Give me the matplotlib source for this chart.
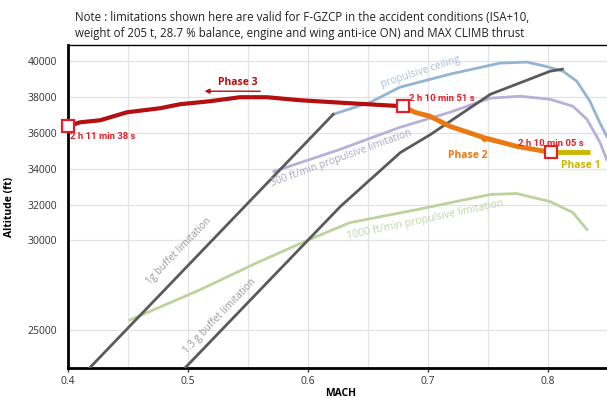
import matplotlib
matplotlib.use("Agg")
import matplotlib.pyplot as plt

plt.rcParams['font.family'] = ['Open Sans', 'DejaVu Sans']

# 1g buffet limitation
buf1_mach = [0.418, 0.621]
buf1_alt = [22880, 37030]
# 1.3 g buffet limitation
buf13_mach = [0.4975, 0.627, 0.677, 0.702, 0.752, 0.802, 0.812]
buf13_alt = [22880, 31890, 34900, 35900, 38150, 39440, 39550]
# propulsive ceiling
ceil_mach = [0.621, 0.652, 0.6767, 0.7183, 0.760, 0.7825, 0.7975, 0.8125, 0.824, 0.835, 0.843, 0.849]
ceil_alt = [37030, 37706, 38545, 39273, 39888, 39944, 39720, 39440, 38880, 37760, 36590, 35800]
# 300 ft/min propulsive limitation
lim300_mach = [0.5717, 0.6267, 0.6767, 0.7183, 0.7517, 0.7767, 0.8017, 0.8208, 0.8325, 0.8433, 0.849]
lim300_alt = [33844, 35076, 36307, 37146, 37930, 38041, 37873, 37482, 36754, 35467, 34516]
# 1000 ft/min propulsive limitation
lim1000_mach = [0.4517, 0.51, 0.5575, 0.599, 0.635, 0.691, 0.7517, 0.774, 0.8017, 0.8208, 0.8325]
lim1000_alt = [25562, 27241, 28752, 29983, 30990, 31718, 32557, 32613, 32165, 31550, 30600]
# Flight phases
ph3_mach = [0.4, 0.41, 0.4267, 0.4492, 0.4767, 0.4933, 0.5183, 0.5433, 0.5658, 0.5933, 0.635, 0.679]
ph3_alt = [36363, 36586, 36698, 37146, 37370, 37594, 37762, 37985, 37985, 37818, 37650, 37482]
ph2_mach = [0.679, 0.689, 0.7017, 0.7183, 0.7458, 0.774, 0.8025]
ph2_alt = [37482, 37146, 36922, 36363, 35747, 35243, 34908]
ph1_mach = [0.8025, 0.835]
ph1_alt = [34908, 34908]
# time markers
mark_mach = [0.4, 0.679, 0.8025]
mark_alt = [36363, 37482, 34908]
mark_labels = ["2 h 11 min 38 s", "2 h 10 min 51 s", "2 h 10 min 05 s"]

xticks = [0.4, 0.5, 0.6, 0.7, 0.8]
yticks = [25000, 30000, 32000, 34000, 36000, 38000, 40000]

fig = plt.figure(figsize=(6.07, 3.98), dpi=100)
ax = fig.add_axes([0.112, 0.0754, 0.888, 0.8116])
ax.set_xlim(0.4, 0.8492)
ax.set_ylim(22880, 40900)

# grid
for gx in [0.45, 0.5, 0.55, 0.6, 0.65, 0.7, 0.75, 0.8]:
    ax.axvline(gx, color='#e2e2e2', lw=0.9, zorder=0)
for gy in yticks:
    ax.axhline(gy, color='#e2e2e2', lw=0.9, zorder=0)

gray = '#5a5a5a'
ax.plot(buf1_mach, buf1_alt, color=gray, lw=2, zorder=3)
ax.plot(buf13_mach, buf13_alt, color=gray, lw=2, zorder=3)
ax.plot(ceil_mach, ceil_alt, color='#94b4d4', lw=2, zorder=2)
ax.plot(lim300_mach, lim300_alt, color='#b9afd9', lw=2, zorder=2)
ax.plot(lim1000_mach, lim1000_alt, color='#bcd39c', lw=2, zorder=2)

ax.plot(ph1_mach, ph1_alt, color='#c9b800', lw=3.5, zorder=5, solid_capstyle='butt')
ax.plot(ph2_mach, ph2_alt, color='#e97a12', lw=3.5, zorder=5)
ax.plot(ph3_mach, ph3_alt, color='#b3100f', lw=3, zorder=5)
ax.plot(mark_mach, mark_alt, ls='none', marker='s', ms=8, mfc='white', mec='#e0202a',
        mew=1.6, zorder=7, clip_on=False)

red = '#e0202a'
tk = dict(color=red, fontsize=6.8, fontweight='bold', zorder=8,
          family=['Roboto', 'DejaVu Sans'])
ax.text(0.4015, 36050, mark_labels[0], ha='left', va='top', **tk)
ax.text(0.684, 37650, mark_labels[1], ha='left', va='bottom', **tk)
ax.text(0.8025, 35150, mark_labels[2], ha='center', va='bottom', **tk)

# phase labels
ax.text(0.5416, 38800, "Phase 3", color='#b3100f', fontsize=7.5, fontweight='bold',
        ha='center', va='center', zorder=8)
ax.annotate("", xy=(0.5115, 38320), xytext=(0.5625, 38320),
            arrowprops=dict(arrowstyle='-|>', color='#b3100f', lw=1.0, mutation_scale=7))
ax.text(0.7333, 34730, "Phase 2", color='#e97a12', fontsize=7.5, fontweight='bold',
        ha='center', va='center', zorder=8)
ax.annotate("", xy=(0.7417, 35660), xytext=(0.7742, 35200),
            arrowprops=dict(arrowstyle='-|>', color='#e97a12', lw=0.8, mutation_scale=6))
ax.text(0.8275, 34170, "Phase 1", color='#c9b800', fontsize=7.5, fontweight='bold',
        ha='center', va='center', zorder=8)

# curve labels
lc = dict(ha='center', va='center', rotation_mode='anchor')
ax.text(0.4925, 29370, "1g buffet limitation", color='#9a9a9a', rotation=46, fontsize=7.2, **lc)
ax.text(0.5267, 25790, "1.3 g buffet limitation", color='#9a9a9a', rotation=46, fontsize=7.2, **lc)
ax.text(0.628, 34600, "300 ft/min propulsive limitation", color='#aba4c4', rotation=20,
        fontsize=7.3, **lc)
ax.text(0.6935, 39380, "propulsive ceiling", color='#a7bfd8', rotation=18, fontsize=7.3, **lc)
ax.text(0.6975, 31160, "1000 ft/min propulsive limitation", color='#c3d4ac', rotation=12,
        fontsize=7.6, **lc)

# axes styling
ax.set_xticks(xticks)
ax.set_xticklabels([f"{v:.1f}" for v in xticks])
ax.set_yticks(yticks)
ax.set_yticklabels([str(v) for v in yticks])
ax.tick_params(axis='both', length=3, width=1, labelsize=7.5, colors='#333333', pad=3)
ax.tick_params(axis='x', direction='out')
ax.tick_params(axis='y', length=0, pad=8)
ax.spines['left'].set_linewidth(2)
ax.spines['bottom'].set_linewidth(2)
ax.spines['top'].set_linewidth(1)
ax.spines['right'].set_visible(False)
ax.set_xlabel("MACH", fontsize=7.5, fontweight='bold')
ax.xaxis.set_label_coords(0.505, -0.062)
ax.set_ylabel("Altitude (ft)", fontsize=7.5, fontweight='bold')
ax.yaxis.set_label_coords(-0.098, 0.5)

fig.text(0.124, 0.957, "Note : limitations shown here are valid for F-GZCP in the accident conditions (ISA+10,",
         fontsize=8.3, ha='left', va='center', color='#222222')
fig.text(0.124, 0.917, "weight of 205 t, 28.7 % balance, engine and wing anti-ice ON) and MAX CLIMB thrust",
         fontsize=8.3, ha='left', va='center', color='#222222')

fig.savefig("out.png", dpi=100)
